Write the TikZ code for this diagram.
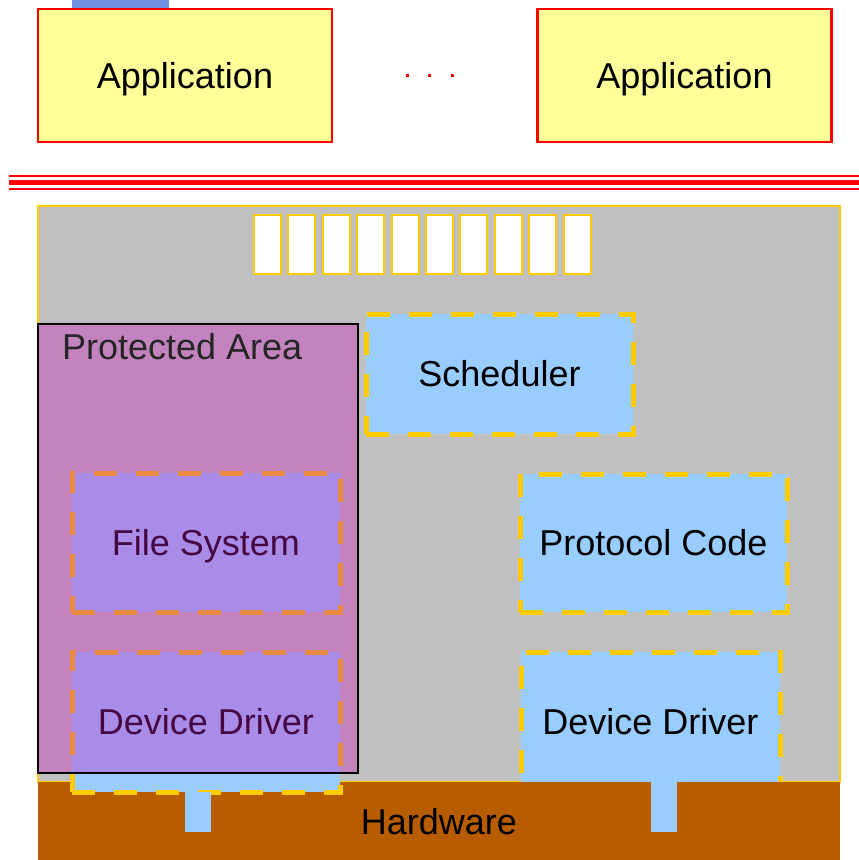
\documentclass[tikz,border=0pt]{standalone}
\usepackage{fontspec}
\setmainfont{Liberation Sans}
\definecolor{appyellow}{HTML}{FFFF99}
\definecolor{modblue}{HTML}{99CCFF}
\definecolor{modyellow}{HTML}{FFCC00}
\definecolor{kernelgray}{HTML}{C0C0C0}
\definecolor{hwbrown}{HTML}{B85C00}
\definecolor{barblue}{HTML}{6F8FE0}
\definecolor{protpink}{RGB}{200,20,190}

\begin{document}
\begin{tikzpicture}[x=1pt,y=1pt]
\tikzstyle{every node}+=[inner sep=0pt, outer sep=0pt, font=\fontsize{36}{43}\selectfont, text height=25.8pt, text depth=0pt]
\tikzstyle{appbox}=[rectangle, draw=red, line width=2.5pt, fill=appyellow, minimum width=294, minimum height=133]
\tikzstyle{module}=[rectangle, fill=modblue, draw=modyellow, line width=5pt, dash pattern=on 23pt off 19pt]
\tikzstyle{slot}=[draw=modyellow, line width=2pt, fill=white]
\useasboundingbox (0,0) rectangle (859,-860);
\fill [barblue] (72,0) rectangle (169,-9);
\node [appbox] (app1) at (185,-75.5) {Application};
\node [appbox] (app2) at (684.5,-75.5) {Application};
\fill [red] (405.5,-73.5) rectangle +(3,-3);
\fill [red] (427.5,-73.5) rectangle +(3,-3);
\fill [red] (450.5,-73.5) rectangle +(3,-3);
\draw [red, line width=2pt] (9,-175.5) -- (859,-175.5);
\draw [red, line width=5pt] (9,-182.5) -- (859,-182.5);
\draw [red, line width=2pt] (9,-189) -- (859,-189);
\draw [modyellow, line width=2pt, fill=kernelgray] (38,-206) rectangle (840,-782);
\draw [slot] (254,-215) rectangle (281,-274);
\draw [slot] (288.4,-215) rectangle (315.4,-274);
\draw [slot] (322.8,-215) rectangle (349.8,-274);
\draw [slot] (357.2,-215) rectangle (384.2,-274);
\draw [slot] (391.6,-215) rectangle (418.6,-274);
\draw [slot] (426,-215) rectangle (453,-274);
\draw [slot] (460.4,-215) rectangle (487.4,-274);
\draw [slot] (494.8,-215) rectangle (521.8,-274);
\draw [slot] (529.2,-215) rectangle (556.2,-274);
\draw [slot] (563.6,-215) rectangle (590.6,-274);
\node [module, minimum width=267, minimum height=120] (sched) at (499.5,-374) {Scheduler};
\node [module, minimum width=267, minimum height=138] (proto) at (653.5,-543) {Protocol Code};
\node [module, minimum width=268, minimum height=139] (fs) at (206,-542.5) {File System};
\node [module, minimum width=259, minimum height=140] (drvr) at (650.5,-722) {Device Driver};
\node [rectangle, fill=hwbrown, minimum width=802, minimum height=78] (hw) at (439,-821) {};
\node (hwlabel) at (439,-822) {Hardware};
\node [module, minimum width=268, minimum height=140] (drvl) at (206,-722) {Device Driver};
\fill [modblue] (185,-792) rectangle (211,-832);
\fill [modblue] (651,-782) rectangle (677,-832);
\draw [black, line width=2.5pt, fill=protpink, fill opacity=0.35] (38,-324) rectangle (358,-773);
\node [anchor=base west, text=black!85] (prot) at (62,-359) {Protected Area};
\end{tikzpicture}
\end{document}
